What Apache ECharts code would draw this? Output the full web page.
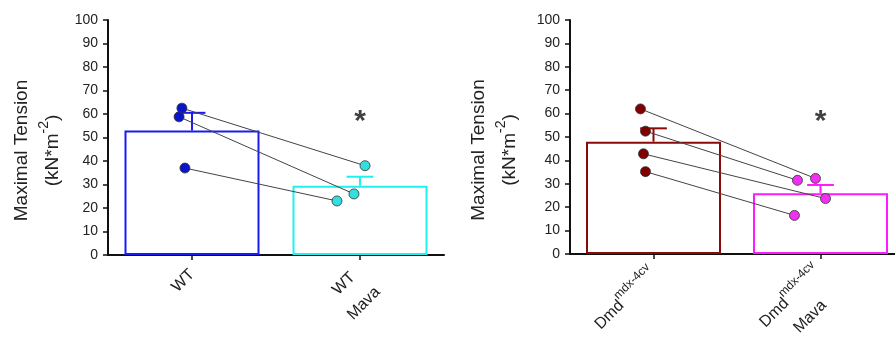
<!DOCTYPE html>
<html>
<head>
<meta charset="utf-8">
<script src="https://cdn.jsdelivr.net/npm/echarts@6/dist/echarts.min.js"></script>
<style>
  html, body { margin: 0; padding: 0; background: #fff; }
  #chart { width: 895px; height: 345px; }
</style>
</head>
<body>
<div id="chart"></div>
<script>
// left panel: WT vs WT + Mava
const leftCategories = ['{b|WT}', '{b|WT}\n{b|Mava}'];
const leftMeans = [53, 29.5];
const leftErrTop = [60.5, 33.3];
const wtValues = [62.5, 58.8, 37];
const wtJitter = [-0.06, -0.077, -0.042];
const wtMavaValues = [38, 26, 23];
const wtMavaJitter = [0.03, -0.036, -0.137];

// right panel: Dmd mdx-4cv vs Dmd mdx-4cv + Mava
const rightCategories = ['{b|Dmd}{s|mdx-4cv}', '{b|Dmd}{s|mdx-4cv}\n{b|Mava}'];
const rightMeans = [48, 26];
const rightErrTop = [53.7, 29.5];
const dmdValues = [62, 52.5, 42.8, 35.2];
const dmdJitter = [-0.078, -0.048, -0.06, -0.048];
const dmdMavaValues = [32.3, 31.5, 23.7, 16.5];
const dmdMavaJitter = [-0.03, -0.138, 0.03, -0.156];

const leftColors = ['#1a1af5', '#1ff0f0'];
const leftDots = ['#0a14c8', '#33dede'];
const rightColors = ['#8a0a0a', '#ff1aff'];
const rightDots = ['#800000', '#f030f0'];

const yTicks = { min: 0, max: 100, interval: 10 };
const starValue = 56.5;

const font = 'Liberation Sans, Arial, sans-serif';
const chart = echarts.init(document.getElementById('chart'));

function yAxisFor(gridIndex, gap) {
  return {
    type: 'value', gridIndex: gridIndex,
    min: yTicks.min, max: yTicks.max, interval: yTicks.interval,
    name: '{n|Maximal Tension}\n{n|(kN*m}{s|-2}{n|)}',
    nameLocation: 'middle', nameRotate: 90, nameGap: gap,
    nameTextStyle: {
      color: '#222', fontFamily: font, lineHeight: 31, padding: [0, 26, 0, 0],
      rich: {
        n: { fontSize: 19, fontFamily: font, color: '#222', lineHeight: 31 },
        s: { fontSize: 14, fontFamily: font, color: '#222', verticalAlign: 'top', lineHeight: 20 }
      }
    },
    axisLine: { show: true, lineStyle: { color: '#111', width: 2 } },
    axisTick: { show: true, length: 5, lineStyle: { color: '#111', width: 1.5 } },
    axisLabel: { color: '#222', fontSize: 14, fontFamily: font, margin: 10 },
    splitLine: { show: false }
  };
}

function catAxisFor(gridIndex, cats) {
  return {
    type: 'category', gridIndex: gridIndex,
    // second label has two lines; padding keeps its first line on the tick
    data: cats.map((c, i) => i === 0 ? c : { value: c, textStyle: { padding: [22, 0, 0, 0] } }),
    axisLine: { show: true, lineStyle: { color: '#111', width: 2 } },
    axisTick: { show: true, alignWithLabel: true, length: 5, lineStyle: { color: '#111', width: 1.5 } },
    axisLabel: {
      rotate: 45, color: '#222', fontSize: 16, fontFamily: font, margin: 17, interval: 0,
      lineHeight: 28,
      rich: {
        b: { fontSize: 16, fontFamily: font, color: '#222', lineHeight: 28, align: 'center' },
        s: { fontSize: 12, fontFamily: font, color: '#222', verticalAlign: 'top', lineHeight: 22, align: 'center' }
      }
    }
  };
}

function pointAxisFor(gridIndex) {
  return { type: 'value', gridIndex: gridIndex, min: 0, max: 2, show: false };
}

function barSeries(xi, yi, means, colors) {
  return {
    type: 'bar', xAxisIndex: xi, yAxisIndex: yi, barWidth: 135,
    data: means.map((v, i) => ({
      value: v,
      itemStyle: { color: '#fff', borderColor: colors[i], borderWidth: 2 }
    })),
    silent: true, z: 2
  };
}

function errSeries(xi, yi, means, tops, colors) {
  return {
    type: 'custom', xAxisIndex: xi, yAxisIndex: yi, z: 3,
    data: means.map((m, i) => [i, m, tops[i]]),
    renderItem: function (params, api) {
      const i = api.value(0);
      const base = api.coord([i, api.value(1)]);
      const top = api.coord([i, api.value(2)]);
      const half = api.size([1, 0])[0] * 0.08;
      const style = { stroke: colors[i], lineWidth: 2 };
      return {
        type: 'group',
        children: [
          { type: 'line', shape: { x1: base[0], y1: base[1], x2: top[0], y2: top[1] }, style: style },
          { type: 'line', shape: { x1: top[0] - half, y1: top[1], x2: top[0] + half, y2: top[1] }, style: style }
        ]
      };
    }
  };
}

function pairSeries(xi, yi, aVals, aJit, bVals, bJit) {
  return aVals.map((v, i) => ({
    type: 'line', xAxisIndex: xi, yAxisIndex: yi, z: 4,
    data: [[0.5 + aJit[i], v], [1.5 + bJit[i], bVals[i]]],
    symbol: 'none', lineStyle: { color: '#444', width: 1 }, silent: true
  }));
}

function dotSeries(xi, yi, center, vals, jit, color) {
  return {
    type: 'scatter', xAxisIndex: xi, yAxisIndex: yi, z: 5,
    data: vals.map((v, i) => [center + jit[i], v]),
    symbolSize: 10,
    itemStyle: { color: color, borderColor: '#333', borderWidth: 0.8, opacity: 1 },
    silent: true
  };
}

function starSeries(xi, yi) {
  return {
    type: 'scatter', xAxisIndex: xi, yAxisIndex: yi, z: 6,
    data: [[1.5, starValue]], symbolSize: 0,
    label: { show: true, formatter: '*', position: 'inside', fontSize: 30, fontWeight: 'bold', color: '#111', fontFamily: font }
  };
}

const option = {
  animation: false,
  backgroundColor: '#fff',
  grid: [
    { left: 108, top: 20, width: 336, height: 235, outerBoundsMode: 'none' },
    { left: 570, top: 20, width: 334, height: 234, outerBoundsMode: 'none' }
  ],
  xAxis: [
    catAxisFor(0, leftCategories),
    catAxisFor(1, rightCategories),
    pointAxisFor(0),
    pointAxisFor(1)
  ],
  yAxis: [yAxisFor(0, 40), yAxisFor(1, 45)],
  series: [
    barSeries(0, 0, leftMeans, leftColors),
    errSeries(0, 0, leftMeans, leftErrTop, leftColors),
    ...pairSeries(2, 0, wtValues, wtJitter, wtMavaValues, wtMavaJitter),
    dotSeries(2, 0, 0.5, wtValues, wtJitter, leftDots[0]),
    dotSeries(2, 0, 1.5, wtMavaValues, wtMavaJitter, leftDots[1]),
    starSeries(2, 0),

    barSeries(1, 1, rightMeans, rightColors),
    errSeries(1, 1, rightMeans, rightErrTop, rightColors),
    ...pairSeries(3, 1, dmdValues, dmdJitter, dmdMavaValues, dmdMavaJitter),
    dotSeries(3, 1, 0.5, dmdValues, dmdJitter, rightDots[0]),
    dotSeries(3, 1, 1.5, dmdMavaValues, dmdMavaJitter, rightDots[1]),
    starSeries(3, 1)
  ]
};

chart.setOption(option);
</script>
</body>
</html>
